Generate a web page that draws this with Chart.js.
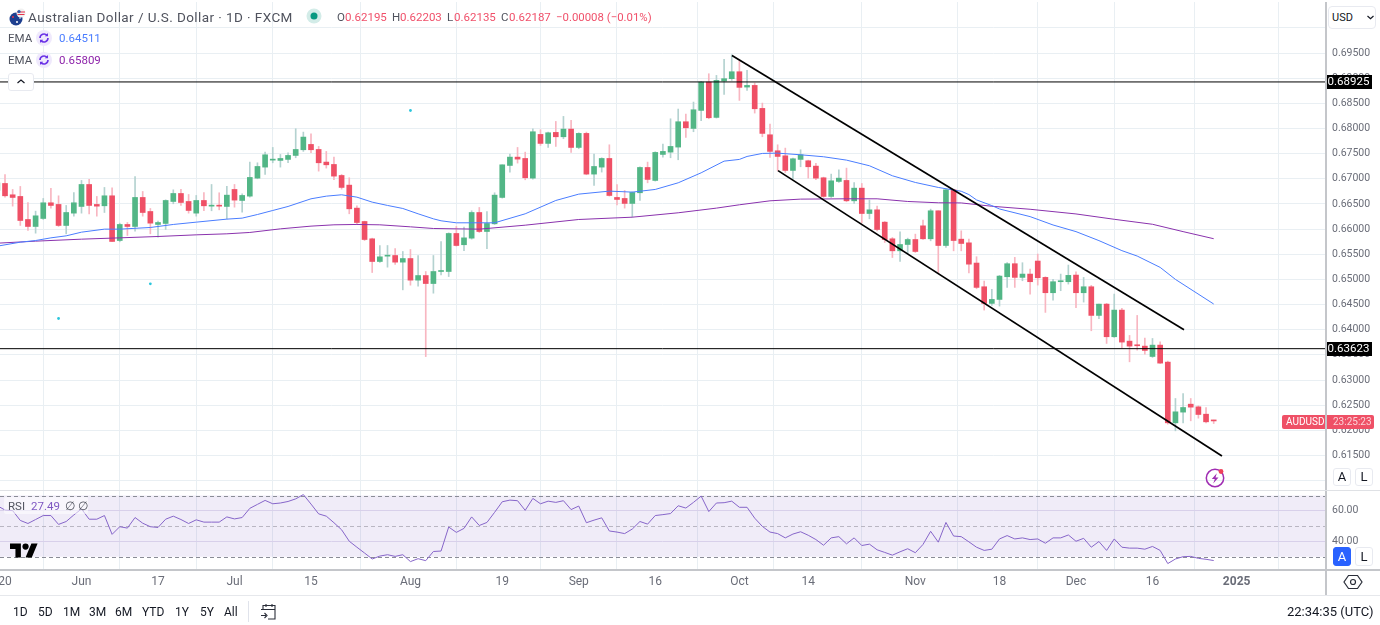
<!DOCTYPE html>
<html>
<head>
<meta charset="utf-8">
<title>AUD/USD</title>
<style>
html,body{margin:0;padding:0;background:#fff;width:1380px;height:625px;overflow:hidden;font-family:Roboto,"Liberation Sans",sans-serif;}
#c{position:absolute;left:0;top:0;}
.t{position:absolute;white-space:nowrap;line-height:14px;}
.d{position:absolute;}
.btn{position:absolute;box-sizing:border-box;border:1px solid #e8eaf0;border-radius:3px;background:#fff;text-align:center;font-size:13px;color:#131722;}
svg{position:absolute;overflow:visible;}
.r{color:#f0506a;}
.g{color:#50535e;}
.bb{font-size:12px;color:#131722;top:605px;}
</style>
</head>
<body>
<canvas id="c" width="1380" height="625"></canvas>

<div class="d" style="left:1325px;top:2px;width:2px;height:593px;background:#c4c6ca"></div>
<div class="d" style="left:0;top:490px;width:1380px;height:1px;background:#dfe1e5"></div>
<div class="d" style="left:0;top:569px;width:1380px;height:2px;background:#c4c6ca"></div>
<div class="d" style="left:0;top:595px;width:1380px;height:1px;background:#e6e8ec"></div>

<svg style="left:8px;top:8px" width="22" height="20" viewBox="0 0 22 20">
  <circle cx="8" cy="11" r="6.5" fill="#1d3f8f"/>
  <circle cx="5" cy="9" r="1" fill="#e8304a"/><circle cx="9" cy="14" r="1" fill="#fff"/><circle cx="12" cy="10" r=".8" fill="#fff"/>
  <circle cx="13" cy="5" r="4.5" fill="#f1f1f1"/>
  <path d="M9 4h8M9.5 6.5h7" stroke="#e8304a" stroke-width="1.2"/>
  <circle cx="11" cy="3.5" r="1.6" fill="#2c5aa8"/>
</svg>
<div class="t g" style="left:28px;top:10px;font-size:13.5px;letter-spacing:.42px;">Australian Dollar / U.S. Dollar · 1D · FXCM</div>
<svg style="left:306px;top:8px" width="16" height="16"><circle cx="8" cy="8" r="7.5" fill="#d3ece8"/><circle cx="8" cy="8" r="3.5" fill="#089981"/></svg>
<div class="t g" style="left:337px;top:10px;font-size:11.5px;">O</div><div class="t r" style="left:345px;top:10px;font-size:11.5px;">0.62195</div>
<div class="t g" style="left:392px;top:10px;font-size:11.5px;">H</div><div class="t r" style="left:400px;top:10px;font-size:11.5px;">0.62203</div>
<div class="t g" style="left:447px;top:10px;font-size:11.5px;">L</div><div class="t r" style="left:454px;top:10px;font-size:11.5px;">0.62135</div>
<div class="t g" style="left:501px;top:10px;font-size:11.5px;">C</div><div class="t r" style="left:509px;top:10px;font-size:11.5px;">0.62187</div>
<div class="t r" style="left:556px;top:10px;font-size:11.4px;">−0.00008 (−0.01%)</div>

<div class="t g" style="left:8px;top:31px;font-size:11.5px;">EMA</div>
<svg style="left:36px;top:30px" width="16" height="16"><circle cx="8" cy="8" r="8" fill="#efe9fc"/><path d="M4 8a4 4 0 0 1 7-2.6M12 8a4 4 0 0 1-7 2.6" fill="none" stroke="#6a31e6" stroke-width="1.6"/><path d="M12 3v3.2H8.8zM4 13V9.8h3.2z" fill="#6a31e6"/></svg>
<div class="t" style="left:59px;top:31px;font-size:11.5px;color:#4a7dff;">0.64511</div>
<div class="t g" style="left:8px;top:53px;font-size:11.5px;">EMA</div>
<svg style="left:36px;top:52px" width="16" height="16"><circle cx="8" cy="8" r="8" fill="#efe9fc"/><path d="M4 8a4 4 0 0 1 7-2.6M12 8a4 4 0 0 1-7 2.6" fill="none" stroke="#6a31e6" stroke-width="1.6"/><path d="M12 3v3.2H8.8zM4 13V9.8h3.2z" fill="#6a31e6"/></svg>
<div class="t" style="left:59px;top:53px;font-size:11.5px;color:#8e24aa;">0.65809</div>
<div class="btn" style="left:8px;top:73px;width:26px;height:18px;"></div>
<svg style="left:8px;top:73px" width="26" height="18"><path d="M9.5 10l3.5-3 3.5 3" fill="none" stroke="#131722" stroke-width="1.2"/></svg>

<div class="btn" style="left:1328px;top:6px;width:48px;height:23px;border-radius:4px;"></div>
<div class="t" style="left:1332px;top:11px;font-size:11px;color:#131722;">USD</div>
<svg style="left:1366px;top:14px" width="9" height="7"><path d="M1.5 2l3 2.6 3-2.6" fill="none" stroke="#131722" stroke-width="1.2"/></svg>

<svg style="left:1204px;top:467px" width="24" height="22">
  <circle cx="11" cy="11" r="8.7" fill="none" stroke="#a02db3" stroke-width="1.5"/>
  <path d="M12.8 6.2L7.8 12h3l-1.6 4.4 5.3-6h-3z" fill="#a02db3"/>
  <circle cx="17" cy="4.5" r="2.4" fill="#f0405a"/>
</svg>
<div class="btn" style="left:1333px;top:468px;width:18px;height:18px;line-height:16px;">A</div>
<div class="btn" style="left:1355px;top:468px;width:18px;height:18px;line-height:16px;">L</div>
<div class="btn" style="left:1333px;top:547px;width:18px;height:19px;line-height:17px;background:#2962ff;border-color:#2962ff;color:#fff;">A</div>
<div class="btn" style="left:1355px;top:547px;width:18px;height:19px;line-height:17px;">L</div>

<div class="d" style="left:4px;top:497px;width:84px;height:17px;background:rgba(255,255,255,.55);border-radius:2px;"></div>
<div class="t g" style="left:8px;top:499px;font-size:11.5px;">RSI</div>
<div class="t" style="left:31px;top:499px;font-size:11.5px;color:#7e57c2;">27.49</div>
<div class="t" style="left:65px;top:499px;font-size:11.5px;color:#50535e;">∅</div>
<div class="t" style="left:78px;top:499px;font-size:11.5px;color:#50535e;">∅</div>

<svg style="left:10px;top:543px" width="28" height="15" viewBox="0 4 36 18"><path d="M14 22H7V11H0V4h14v18zM28 22h-8l7.5-18h8L28 22z" fill="#000"/><circle cx="20" cy="8" r="4" fill="#000"/></svg>

<svg style="left:1343px;top:572px" width="20" height="20"><path d="M5.5 3.5h9L19 10l-4.5 6.5h-9L1 10z" fill="none" stroke="#2a2e39" stroke-width="1.2"/><circle cx="10" cy="10" r="2.5" fill="none" stroke="#2a2e39" stroke-width="1.2"/></svg>

<div class="t bb" style="left:13px;">1D</div>
<div class="t bb" style="left:38px;">5D</div>
<div class="t bb" style="left:63px;">1M</div>
<div class="t bb" style="left:89px;">3M</div>
<div class="t bb" style="left:115px;">6M</div>
<div class="t bb" style="left:142px;">YTD</div>
<div class="t bb" style="left:175px;">1Y</div>
<div class="t bb" style="left:200px;">5Y</div>
<div class="t bb" style="left:224px;">All</div>
<div class="d" style="left:248px;top:601px;width:1px;height:21px;background:#e0e3eb"></div>
<svg style="left:260px;top:603px" width="18" height="18"><path d="M3 6V2.5h12V16H8M1 6.5h14M6 1v3M12 1v3M1 12.5h5M4.5 10l2.5 2.5-2.5 2.5" fill="none" stroke="#2a2e39" stroke-width="1.1"/></svg>
<div class="t" style="left:1287px;top:605px;font-size:13px;color:#131722;">22:34:35 (UTC)</div>

<script src="https://cdn.jsdelivr.net/npm/chart.js@4/dist/chart.umd.min.js"></script>
<script>
// Bars run from trading-day index -1 (partly cut at the left edge) to 158 (24 Dec 2024).
const firstBar = -1;
const opens = [
.6677,.66907,.66682,.66649,.66191,.66052,.66211,.66523,.6649,.66072,.66317,
.6645,.66887,.6649,.66463,.66662,.65773,.66092,.66052,.66629,.6635,
.66092,.66112,.66549,.66708,.66549,.66317,.66569,.66456,.6647,.6645,
.66788,.66569,.66655,.67013,.67232,.67371,.67365,.67385,.67464,.67577,
.67683,.67583,.67332,.67285,.67066,.66874,.66417,.66151,.65807,.65356,
.65462,.65475,.65343,.65415,.64985,.65077,.64918,.65157,.65157,.65913,
.65689,.6582,.6633,.65952,.66105,.66629,.67265,.67431,.67404,.67013,
.67882,.67703,.67922,.67835,.67988,.67623,.67902,.67093,.67232,.67404,
.66629,.66609,.6651,.66722,.67225,.66967,.67484,.6753,.6763,.68134,
.68001,.68359,.68923,.6822,.68943,.6899,.69128,.68823,.68856,.68399,
.67875,.67557,.67457,.67166,.67385,.67358,.67252,.6702,.66649,.66947,
.66967,.66562,.66814,.6631,.66383,.66138,.65807,.65568,.65694,.65793,
.66065,.65807,.66364,.65674,.66781,.658,.65727,.65325,.64854,.64523,
.64602,.65053,.65312,.6504,.65106,.65365,.6504,.64735,.64954,.64954,
.65086,.64735,.64854,.64284,.64509,.6386,.6439,.63773,.63694,.63674,
.63468,.63694,.63356,.62149,.62362,.6252,.62467,.62321,.62195
];
const highs = [
.6699,.67086,.66788,.66848,.66529,.66357,.66609,.66808,.66662,.6647,.66728,
.66967,.66987,.66649,.66828,.66821,.66118,.66131,.67046,.66748,.6641,
.66158,.66582,.66781,.66788,.66688,.66669,.66728,.66887,.66722,.66848,
.66887,.66702,.67332,.67318,.6753,.67623,.67484,.67517,.67995,.67928,
.67895,.67643,.67544,.67431,.67086,.6702,.66463,.66158,.6582,.65674,
.65674,.65614,.65555,.65594,.65475,.65157,.65475,.65754,.65926,.66052,
.66039,.66364,.6643,.6635,.66722,.67278,.67491,.67623,.6753,.67995,
.67975,.67928,.6814,.6824,.6816,.67915,.67928,.67491,.67418,.67676,
.66887,.66768,.66741,.67239,.67332,.67537,.6769,.68193,.68386,.68286,
.68525,.68936,.69088,.69055,.69374,.69466,.69354,.69155,.68903,.68505,
.68087,.67676,.6761,.67411,.67577,.67371,.67305,.67033,.67093,.67179,
.67212,.66927,.66907,.66576,.66456,.66151,.65833,.65946,.6582,.659,
.66178,.66397,.66364,.66794,.66794,.65966,.658,.65451,.64967,.64801,
.6508,.65332,.65438,.65332,.65206,.65504,.65053,.65,.65106,.65285,
.65152,.6504,.64881,.64509,.64523,.64708,.64423,.63886,.64284,.63833,
.63826,.6376,.63376,.62633,.62733,.62633,.62487,.62454,.62203
];
const lows = [
.6668,.66635,.66456,.66072,.65972,.65919,.66191,.66417,.66052,.65906,.66257,
.66317,.66304,.66257,.6633,.65754,.65747,.65873,.65959,.66257,.65906,
.6584,.65992,.66503,.6647,.66317,.66257,.66364,.66364,.66383,.66204,
.66436,.66337,.66635,.67,.67086,.67318,.67232,.67318,.67418,.67544,
.67517,.67152,.67212,.6698,.66794,.66304,.66092,.65773,.65137,.65336,
.65243,.65296,.64792,.64885,.64865,.63466,.64726,.65091,.65057,.65661,
.6557,.658,.65933,.6561,.66092,.66615,.67133,.67312,.6698,.66993,
.67663,.67623,.67643,.67796,.67524,.67597,.6708,.66867,.67133,.66655,
.66483,.66417,.66237,.66569,.6692,.66954,.67431,.67418,.67378,.67822,
.67935,.68154,.68193,.68207,.68677,.68956,.68558,.68757,.68306,.67835,
.67424,.67159,.67126,.66993,.67239,.67013,.6698,.66629,.66629,.66927,
.66543,.66509,.66125,.66204,.65966,.65734,.65435,.65356,.65515,.65535,
.65793,.65767,.65137,.65634,.65568,.65568,.6513,.64814,.6439,.64483,
.6447,.64841,.64841,.64973,.64708,.64887,.64344,.64589,.64775,.64907,
.64436,.64549,.63979,.64218,.63727,.63846,.63641,.63362,.63594,.63515,
.63449,.63329,.62123,.6199,.62149,.62189,.62242,.62149,.62135
];
const closes = [
.6692,.66662,.66629,.66171,.66052,.66264,.66523,.6647,.66072,.6633,.66523,
.66887,.6647,.66456,.66662,.65754,.66092,.66052,.66629,.6633,.66118,
.66131,.66569,.66708,.66529,.6637,.66569,.66463,.6647,.66456,.66675,
.66576,.66669,.67027,.67245,.67477,.67385,.67404,.67464,.67583,.67829,
.67577,.67318,.67278,.67053,.66828,.66403,.66131,.65793,.65356,.65449,
.65475,.65343,.65415,.64985,.65077,.64918,.65157,.65177,.65913,.65674,
.65826,.6633,.65952,.66112,.66675,.67278,.67431,.67391,.6702,.67935,
.67703,.67915,.67835,.67988,.67623,.67902,.67093,.67245,.67404,.66668,
.66589,.6651,.66728,.67225,.66987,.67524,.67544,.67643,.68134,.68014,
.68372,.68923,.68213,.68956,.6899,.69128,.68817,.68856,.68392,.67902,
.67544,.67444,.67166,.67398,.67477,.67239,.67013,.66649,.6696,.67013,
.66562,.66814,.6631,.66383,.65992,.65793,.65568,.65694,.65793,.65555,
.65807,.66364,.65674,.66781,.65773,.65714,.65303,.64841,.64523,.64602,
.65066,.65312,.6504,.65106,.64954,.65033,.64735,.64954,.64967,.6508,
.64735,.64854,.64284,.64509,.6386,.6439,.63754,.63674,.63681,.63588,
.63694,.63336,.62149,.62368,.62454,.62461,.62315,.62169,.62187
];

const fastBars = [-1,2,4,6,8,10,13,15,19,22,25,29,31,33,35,37,40,42,44,46,48,50,52,54,56,57,59,64,68,72,75,79,82,85,88,91,94,96,97,99,101,104,107,110,113,116,119,122,125,126,127,129,130,134,137,140,143,146,148,151,153,158];
const fastEma = [.65661,.6574,.65773,.65826,.65866,.65939,.65999,.65999,.66032,.66092,.66138,.66198,.66218,.6629,.6637,.6645,.66602,.66655,.66682,.66635,.66536,.6647,.6641,.66304,.66204,.66165,.66125,.66125,.66304,.66569,.66695,.66755,.66735,.66788,.6692,.67119,.67351,.67385,.67444,.67504,.6751,.67477,.67438,.67371,.67259,.6706,.66927,.66828,.66752,.66686,.6658,.66467,.664,.66248,.66082,.6595,.65771,.65572,.65464,.65239,.65,.64511];
const slowBars = [-1,4,10,15,20,25,29,32,36,40,43,46,49,53,56,59,62,68,75,82,88,93,96,100,104,110,114,118,122,125,129,134,140,145,150,154,158];
const slowEma = [.6572,.6576,.658,.65826,.65853,.65886,.65906,.65933,.66005,.66059,.66085,.66092,.66085,.66045,.66012,.66005,.65999,.66078,.66191,.66237,.66324,.66417,.66483,.66562,.66596,.66602,.66602,.66549,.66523,.6652,.66454,.66394,.66301,.66195,.66096,.6595,.65809];

const rsiValues = [
63.3,60.5,60.1,53.7,51.7,54.3,56.9,56.9,51.1,53,57.3,
61.2,54.5,54.5,56.9,44.6,49.6,48.7,55.6,51.9,49.6,
49.1,54.5,56.5,54.3,51.7,54.1,52.6,52.6,52.6,56,
54.7,55.6,61.6,64.2,66.8,64.6,65.1,66.1,67.8,70.6,
64.4,58,56.5,52.2,47.6,40.1,36.2,32.4,28.5,30.4,
31.3,30.2,31.3,26.8,28.7,27.4,33.4,33.7,49.4,45.9,
48.5,56,50.4,52.4,59,65.9,67,66.6,60.3,68.1,
64.6,66.3,65.5,66.6,60.8,63.1,52.2,53.9,55.4,46.8,
46.1,45.1,48.1,53,51.3,56.9,57.5,58.2,63.3,61.8,
65.5,69.6,59.5,65.1,65.3,66.3,62.3,62.3,55.2,49.8,
46.1,45.1,42.3,44.8,46.3,44,41.2,37.5,42.3,43.1,
38.4,42.3,37.3,38.2,34.5,32.8,31,33.2,35.2,32.6,
38,46.6,39.5,52.4,43.5,43.1,39.7,36.2,34.1,34.9,
41.6,43.8,41.6,42.3,41.2,41.6,38.8,42.3,42.3,44.2,
40.1,42,36.2,39.9,34.1,41.6,36.2,35.6,35.6,34.9,
36.7,34.1,25.5,28.5,30,30.2,28.9,28.3,27.49
];

const upperChannelBars = [95.03,154.12];
const upperChannel = [.6945,.63998];
const lowerChannelBars = [101.05,159.08];
const lowerChannel = [.67162,.6149];
const levels = [.68925,.63623];
const dotBars = [53,19,7];
const dotPrices = [.68357,.64912,.64223];

const priceTicks = [.70,.695,.69,.685,.68,.675,.67,.665,.66,.655,.65,.645,.64,.635,.63,.625,.62,.615,.61];
const hiddenPriceLabels = [.70,.61];
const rsiTicks = [60,40];
const rsiBands = [70,50,30];
const timeTickBars = [0,10,20,30,40,53,65,75,85,96,105,119,130,140,150,161];
const timeTickLabels = ['20','Jun','17','Jul','15','Aug','19','Sep','16','Oct','14','Nov','18','Dec','16','2025'];
const lastSymbol = 'AUDUSD';
const lastCountdown = '23:25:23';

const RED = '#ef5066', GREEN = '#52b686', RED_W = '#f8b6c1', GREEN_W = '#b4d2d0';
const xMin = -0.654, xMax = 172.55;
const idx = a => a.map((_, k) => k + firstBar);
const up = k => closes[k] >= opens[k];
const barX = idx(opens);

const wicks = barX.map((x, k) => ({x, y: [lows[k], highs[k]]}));
const bodies = barX.map((x, k) => ({x, y: [Math.min(opens[k], closes[k]), Math.max(opens[k], closes[k])]}));
const pairs = (xs, ys) => xs.map((x, k) => ({x, y: ys[k]}));
const line = (data, color, width, yAxisID, order) => ({type:'line', data, borderColor:color, borderWidth:width, pointRadius:0, tension:0, yAxisID, order, fill:false});
const noPad = s => { s.paddingLeft = 0; s.paddingRight = 0; s.paddingTop = 0; s.paddingBottom = 0; };

const overlay = {
  id:'overlay',
  beforeDatasetsDraw(chart){
    const {ctx, chartArea:a, scales:{yRsi}} = chart;
    ctx.save();
    const t = yRsi.getPixelForValue(rsiBands[0]), b = yRsi.getPixelForValue(rsiBands[2]);
    ctx.fillStyle = 'rgba(126,87,194,0.115)';
    ctx.fillRect(a.left, t, a.right - a.left, b - t);
    ctx.setLineDash([4,3]);
    rsiBands.forEach((v, k) => {
      const y = Math.round(yRsi.getPixelForValue(v)) + .5;
      ctx.strokeStyle = k === 1 ? '#b9b6c2' : '#8a8c96';
      ctx.lineWidth = 1;
      ctx.beginPath(); ctx.moveTo(a.left, y); ctx.lineTo(a.right, y); ctx.stroke();
    });
    ctx.restore();
  },
  afterDraw(chart){
    const {ctx, scales:{y}} = chart;
    ctx.save();
    ctx.textBaseline = 'middle';
    ctx.font = '11.5px Roboto';
    levels.forEach(v => {
      const py = Math.round(y.getPixelForValue(v));
      ctx.fillStyle = '#000';
      ctx.fillRect(1325, py - 7, 47, 14);
      ctx.fillStyle = '#fff';
      ctx.textAlign = 'center';
      ctx.fillText(v.toFixed(5), 1348.5, py + .5);
    });
    const py = Math.round(y.getPixelForValue(closes[closes.length - 1])) + 1;
    ctx.fillStyle = RED;
    ctx.beginPath();
    ctx.roundRect(1282, py - 7, 92, 14, 2);
    ctx.fill();
    ctx.textAlign = 'left';
    ctx.font = '10px Roboto';
    ctx.fillStyle = '#fff';
    ctx.fillText(lastSymbol, 1286, py + .5);
    ctx.fillStyle = 'rgba(255,255,255,.75)';
    ctx.fillText(lastCountdown, 1333, py + .5);
    ctx.restore();
  }
};

new Chart(document.getElementById('c'), {
  type:'bar',
  plugins:[overlay],
  data:{datasets:[
    {data:bodies, backgroundColor:barX.map((_, k) => up(k) ? GREEN : RED), barThickness:5, minBarLength:1, grouped:false, yAxisID:'y', order:5, borderWidth:0},
    {data:wicks, backgroundColor:barX.map((_, k) => up(k) ? GREEN_W : RED_W), barThickness:1, grouped:false, yAxisID:'y', order:6, borderWidth:0},
    line(pairs(fastBars, fastEma), '#4a7dff', 1, 'y', 4),
    line(pairs(slowBars, slowEma), '#8a32ad', 1, 'y', 4),
    line(pairs(upperChannelBars, upperChannel), '#000', 1.7, 'y', 3),
    line(pairs(lowerChannelBars, lowerChannel), '#000', 1.7, 'y', 3),
    line([{x:xMin,y:levels[0]},{x:xMax,y:levels[0]}], '#000', 1, 'y', 2),
    line([{x:xMin,y:levels[1]},{x:xMax,y:levels[1]}], '#000', 1, 'y', 2),
    {type:'scatter', data:pairs(dotBars, dotPrices), backgroundColor:'#2cc6dc', pointRadius:1.4, pointBorderWidth:0, yAxisID:'y', order:2},
    line(pairs(barX, rsiValues), '#8665c9', 1, 'yRsi', 1)
  ]},
  options:{
    responsive:false,
    animation:false,
    events:[],
    layout:{autoPadding:false, padding:{top:2, bottom:30, left:0, right:0}},
    plugins:{legend:{display:false}, tooltip:{enabled:false}, title:{display:false}},
    scales:{
      x:{
        type:'linear', min:xMin, max:xMax, offset:false,
        afterBuildTicks:s => { s.ticks = timeTickBars.map(value => ({value})); },
        afterFit:s => { s.height = 25; noPad(s); },
        grid:{color:'#e9eff3', drawTicks:false, lineWidth:1},
        border:{display:false},
        ticks:{
          autoSkip:false, maxRotation:0, padding:5, color:'#6a6d78',
          font:c => ({family:'Roboto', size:12, weight: timeTickLabels[timeTickBars.indexOf(c.tick && c.tick.value)] === '2025' ? 'bold' : 'normal'}),
          callback:v => timeTickLabels[timeTickBars.indexOf(v)]
        }
      },
      y:{
        position:'right', stack:'panes', stackWeight:488, weight:1, min:.60814, max:.70514,
        afterBuildTicks:s => { s.ticks = priceTicks.map(value => ({value})); },
        afterFit:s => { s.width = 55; noPad(s); },
        grid:{color:'#e9eff3', drawTicks:false},
        border:{display:false},
        ticks:{autoSkip:false, padding:7, color:'#6a6d78', font:{family:'Roboto', size:10.5},
          callback:v => hiddenPriceLabels.includes(v) ? '' : v.toFixed(5)}
      },
      yRsi:{
        position:'right', stack:'panes', stackWeight:80, weight:2, min:21.3, max:73.6,
        afterBuildTicks:s => { s.ticks = rsiTicks.map(value => ({value})); },
        afterFit:s => { s.width = 55; noPad(s); },
        grid:{color:'#e4e0f0', drawTicks:false},
        border:{display:false},
        ticks:{autoSkip:false, padding:7, color:'#6a6d78', font:{family:'Roboto', size:10.5},
          callback:v => v.toFixed(2)}
      }
    }
  }
});
</script>
</body>
</html>
